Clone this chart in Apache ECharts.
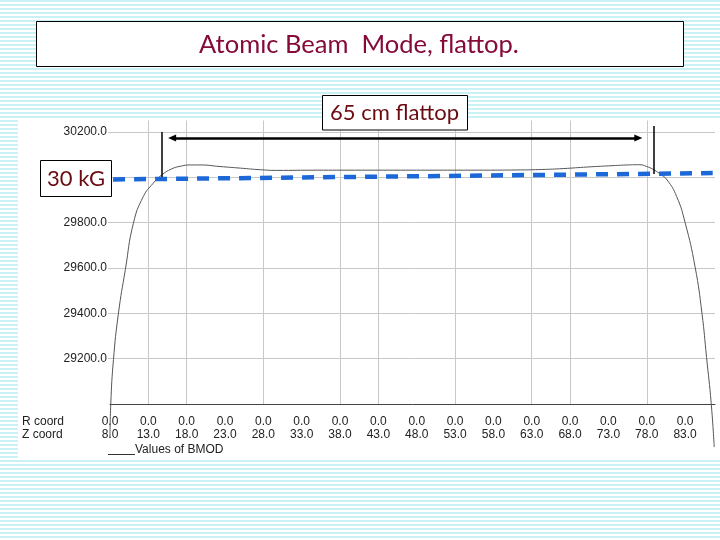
<!DOCTYPE html>
<html>
<head>
<meta charset="utf-8">
<script src="https://cdn.jsdelivr.net/npm/echarts@6/dist/echarts.min.js"></script>
<style>
html, body { margin: 0; padding: 0; }
body {
  width: 720px; height: 540px; position: relative; overflow: hidden;
  background: repeating-linear-gradient(to bottom, #c9f1f6 0px, #c9f1f6 2px, #ffffff 2px, #ffffff 4px);
}
#panel { position: absolute; left: 18px; top: 118px; width: 702px; height: 342px; background: #ffffff; }
#c { position: absolute; left: 0; top: 0; width: 720px; height: 540px; }
</style>
</head>
<body>
<div id="panel"></div>
<div id="c"></div>
<script>
// ---- data ----
const zCoord = [8.0, 8.1, 8.45, 9.1, 10.0, 11.05, 12.35, 13.65, 14.75, 16.0, 17.15, 18.5, 19.75, 22.35, 25.0, 27.6, 29.75,
  35.0, 40.0, 45.0, 50.0, 55.0, 61.5, 64.3, 67.1, 70.3, 73.6, 75.5, 77.1, 78.0, 78.8, 79.7, 80.65, 81.9, 83.0, 84.3, 85.2, 85.8, 86.4, 86.8];
const bmod = [28850, 29000, 29195, 29400, 29592, 29797, 29915, 29974, 30010, 30036, 30048, 30054, 30054, 30047, 30040, 30033, 30030,
  30031, 30031, 30031, 30031, 30031, 30032, 30034, 30038, 30045, 30051, 30054, 30055, 30047, 30035, 30015, 29988, 29915, 29800, 29605, 29400, 29205, 29005, 28810];

const levelZ = [8.4, 86.6];          // blue dashed "30 kG" level
const levelB = [29990, 30018];

const zTicks = [8, 13, 18, 23, 28, 33, 38, 43, 48, 53, 58, 63, 68, 73, 78, 83];
const rTicks = [0, 0, 0, 0, 0, 0, 0, 0, 0, 0, 0, 0, 0, 0, 0, 0];
const zMin = 8, zMax = 86.9;
const bMin = 29000, bMax = 30250, bStep = 200;

const flatArrowZ = [16.1, 76.9];     // "65 cm flattop" arrow
const flatArrowB = 30173;
const flatEdgeZ = [14.8, 78.95];     // vertical edge markers
const flatEdgeTopB = [30199, 30226];
const flatEdgeBotB = [30001, 30014];

// ---- chart ----
const AXF = "'Liberation Sans',Arial,sans-serif";
const BOXF = "Lato,'Open Sans',sans-serif";
const G = '#c8c8c8', T = 'rgba(0,0,0,0)';
const xGridColors = [T, G, G, T, G, T, G, G, T, G, T, G, G, T, G, T, T];
const yGridColors = [T, G, G, G, G, G, G, T];

const u = z => z - zMin;

const chart = echarts.init(document.getElementById('c'), null, { renderer: 'canvas' });
chart.setOption({
  animation: false,
  backgroundColor: 'transparent',
  grid: { left: 110, right: 5, top: 120.5, bottom: 136 },
  xAxis: {
    type: 'value', min: 0, max: zMax - zMin, interval: 5,
    axisLine: { lineStyle: { color: '#444', width: 1 } },
    axisTick: { show: false },
    axisLabel: {
      margin: 11, fontSize: 12, lineHeight: 13, fontFamily: AXF, color: '#222',
      showMaxLabel: false,
      formatter: v => {
        const i = zTicks.indexOf(Math.round(v + zMin));
        if (i < 0) return '';
        return rTicks[i].toFixed(1) + '\n' + zTicks[i].toFixed(1);
      }
    },
    splitLine: { show: true, lineStyle: { color: xGridColors, width: 1 } }
  },
  yAxis: {
    type: 'value', min: bMin, max: bMax, interval: bStep,
    axisLine: { show: false },
    axisTick: { show: true, length: 2, lineStyle: { color: G } },
    axisLabel: {
      margin: 3, fontSize: 12, fontFamily: AXF, color: '#222',
      showMinLabel: false, showMaxLabel: false,
      padding: [3, 0, 0, 0],
      formatter: v => v.toFixed(1)
    },
    splitLine: { show: true, lineStyle: { color: yGridColors, width: 1 } }
  },
  series: [
    {
      type: 'line', clip: false, showSymbol: false, silent: true,
      smooth: 0.5,
      data: zCoord.map((z, i) => [u(z), bmod[i]]),
      lineStyle: { color: '#555', width: 1 },
      z: 3
    },
    {
      type: 'line', clip: false, showSymbol: false, silent: true,
      data: levelZ.map((z, i) => [u(z), levelB[i]]),
      lineStyle: { color: '#1d68d8', width: 4.5, type: [12, 9], cap: 'butt' },
      z: 4,
      markLine: {
        silent: true, animation: false, symbol: 'none',
        label: { show: false },
        lineStyle: { color: '#000', type: 'solid', width: 1.5 },
        emphasis: { disabled: true },
        data: [
          [{ coord: [u(flatEdgeZ[0]), flatEdgeTopB[0]] }, { coord: [u(flatEdgeZ[0]), flatEdgeBotB[0]] }],
          [{ coord: [u(flatEdgeZ[1]), flatEdgeTopB[1]] }, { coord: [u(flatEdgeZ[1]), flatEdgeBotB[1]] }],
          [
            { coord: [u(flatArrowZ[0]), flatArrowB], symbol: 'triangle', symbolSize: [7, 8], lineStyle: { width: 2.5, color: '#000', type: 'solid' } },
            { coord: [u(flatArrowZ[1]), flatArrowB], symbol: 'triangle', symbolSize: [7, 8] }
          ]
        ]
      }
    }
  ],
  graphic: [
    { type: 'rect', z: 100, shape: { x: 36.5, y: 21.5, width: 647, height: 45 },
      style: { fill: '#fff', stroke: '#000', lineWidth: 1 } },
    { type: 'text', z: 101, x: 359, y: 45,
      style: { text: 'Atomic Beam  Mode, flattop.', fontSize: 25.5, fontFamily: BOXF, fill: '#850a3a', align: 'center', verticalAlign: 'middle' } },
    { type: 'rect', z: 100, shape: { x: 322.5, y: 95.5, width: 145, height: 34.5 },
      style: { fill: '#fff', stroke: '#000', lineWidth: 1 } },
    { type: 'text', z: 101, x: 394.5, y: 113,
      style: { text: '65 cm flattop', fontSize: 22, fontFamily: BOXF, fill: '#6a0b12', align: 'center', verticalAlign: 'middle' } },
    { type: 'rect', z: 100, shape: { x: 40.5, y: 160.5, width: 71, height: 36 },
      style: { fill: '#fff', stroke: '#000', lineWidth: 1 } },
    { type: 'text', z: 101, x: 76, y: 179,
      style: { text: '30 kG', fontSize: 22, fontFamily: BOXF, fill: '#6a0b12', align: 'center', verticalAlign: 'middle' } },
    { type: 'text', z: 101, x: 22, y: 421.7,
      style: { text: 'R coord', fontSize: 12, fontFamily: AXF, fill: '#222', align: 'left', verticalAlign: 'middle' } },
    { type: 'text', z: 101, x: 22, y: 435,
      style: { text: 'Z coord', fontSize: 12, fontFamily: AXF, fill: '#222', align: 'left', verticalAlign: 'middle' } },
    { type: 'line', z: 101, shape: { x1: 108, y1: 454.5, x2: 135, y2: 454.5 },
      style: { stroke: '#333', lineWidth: 1 } },
    { type: 'text', z: 101, x: 135, y: 450,
      style: { text: 'Values of BMOD', fontSize: 12, fontFamily: AXF, fill: '#222', align: 'left', verticalAlign: 'middle' } }
  ]
});
</script>
</body>
</html>
